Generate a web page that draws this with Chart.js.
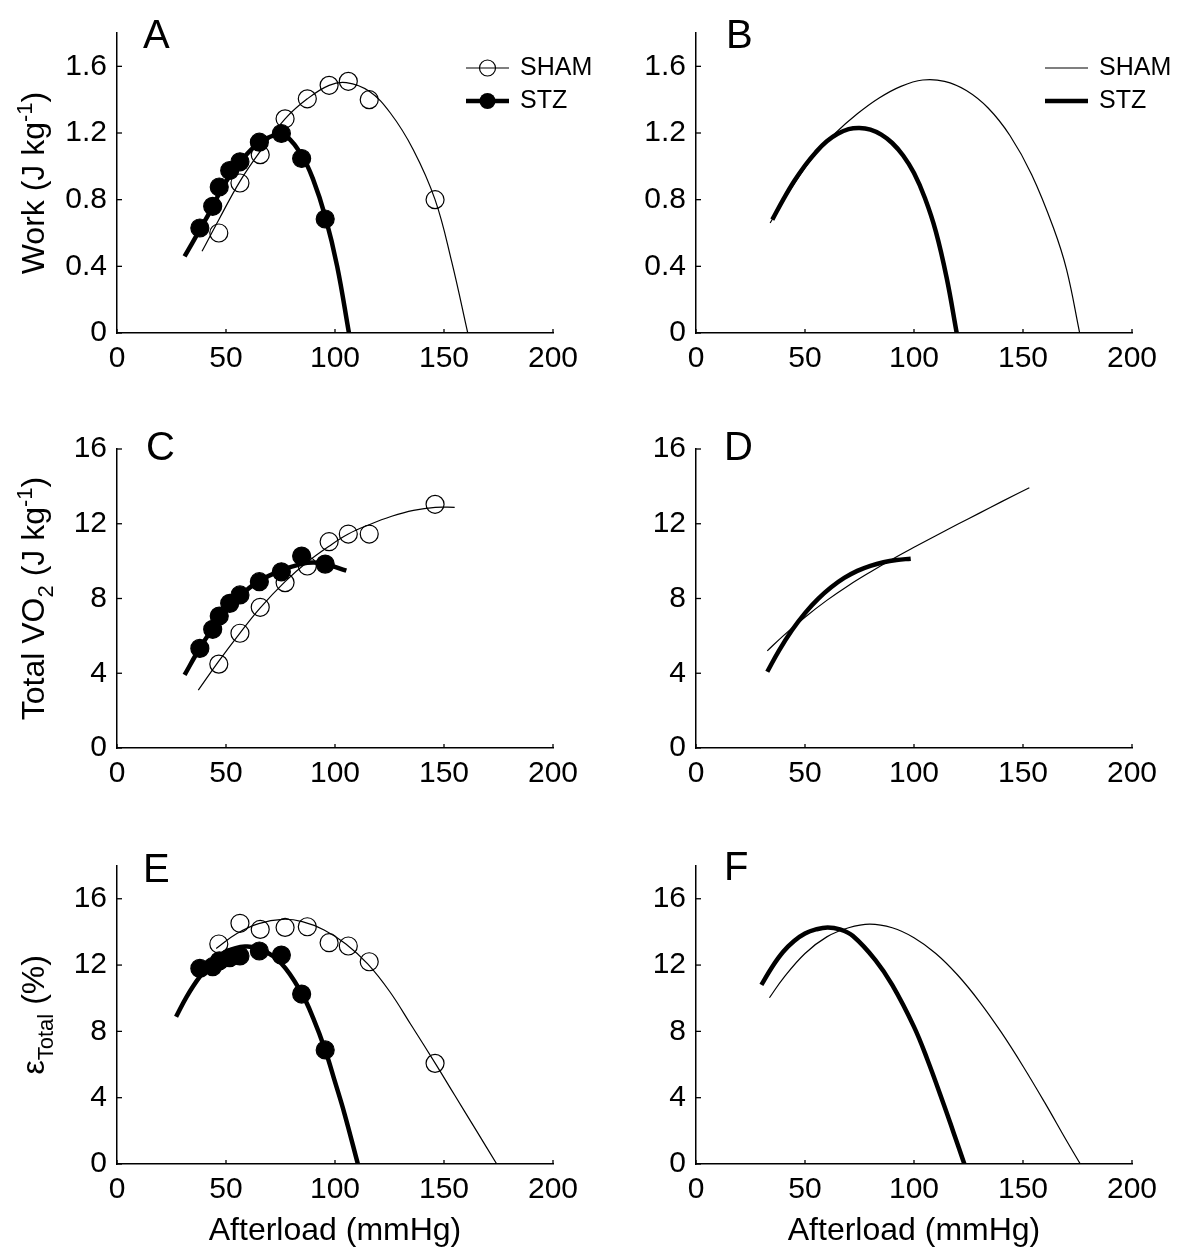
<!DOCTYPE html>
<html>
<head>
<meta charset="utf-8">
<script src="https://cdn.jsdelivr.net/npm/chart.js@4.4.1/dist/chart.umd.min.js"></script>
<style>
  body { margin: 0; background: #fff; }
  #fig { position: relative; width: 1200px; height: 1253px; }
  #fig canvas { position: absolute; }
</style>
</head>
<body>
<div id="fig">
  <canvas id="cA" width="600" height="400" style="left:0;top:0"></canvas>
  <canvas id="cB" width="600" height="400" style="left:600px;top:0"></canvas>
  <canvas id="cC" width="600" height="420" style="left:0;top:400px"></canvas>
  <canvas id="cD" width="600" height="420" style="left:600px;top:400px"></canvas>
  <canvas id="cE" width="600" height="433" style="left:0;top:820px"></canvas>
  <canvas id="cF" width="600" height="433" style="left:600px;top:820px"></canvas>
</div>
<script>
// ---- tick labels ----
const xTicks = [0, 50, 100, 150, 200];
const workTicks = [0, 0.4, 0.8, 1.2, 1.6];
const vo2Ticks = [0, 4, 8, 12, 16];
const effTicks = [0, 4, 8, 12, 16];

// ---- measured points (afterload, mmHg) ----
const shamX = [46.7, 56.4, 65.7, 77.1, 87.3, 97.3, 106.1, 115.7, 145.9];
const stzX = [38.0, 43.9, 46.9, 51.7, 56.4, 65.3, 75.4, 84.7, 95.5];

const shamWork = [0.60, 0.90, 1.07, 1.285, 1.405, 1.486, 1.51, 1.40, 0.80];
const stzWork = [0.63, 0.76, 0.876, 0.975, 1.027, 1.145, 1.197, 1.047, 0.684];
const shamVO2 = [4.49, 6.14, 7.53, 8.85, 9.74, 11.04, 11.45, 11.45, 13.04];
const stzVO2 = [5.33, 6.35, 7.06, 7.74, 8.19, 8.90, 9.43, 10.27, 9.84];
const shamEff = [13.27, 14.52, 14.15, 14.27, 14.31, 13.35, 13.15, 12.2, 6.07];
const stzEff = [11.8, 11.9, 12.25, 12.45, 12.55, 12.85, 12.6, 10.25, 6.88];

// ---- fitted curves ----
// A
const fitShamWorkX = [39, 46.7, 56.4, 65.7, 77.1, 87.3, 97.3, 105.2, 115.7, 125.4, 135.9, 145.9, 153.5, 160.9];
const fitShamWorkY = [0.49, 0.68, 0.91, 1.09, 1.285, 1.405, 1.486, 1.502, 1.45, 1.32, 1.10, 0.80, 0.43, 0];
const fitStzWorkX = [31, 38, 44, 47, 52, 56, 65, 73, 77, 85, 90, 95.5, 101, 106.4];
const fitStzWorkY = [0.46, 0.62, 0.76, 0.84, 0.95, 1.02, 1.14, 1.19, 1.19, 1.06, 0.92, 0.70, 0.40, 0];
// B
const modShamWorkX = [34, 44, 54, 64, 74, 84, 94, 104, 114, 124, 134, 144, 154, 164, 170, 176];
const modShamWorkY = [0.66, 0.875, 1.06, 1.20, 1.315, 1.41, 1.48, 1.518, 1.51, 1.455, 1.35, 1.185, 0.95, 0.63, 0.38, 0];
const modStzWorkX = [35, 40, 45, 50, 55, 60, 65, 70, 75, 80, 85, 90, 95, 100, 105, 110, 115, 119.6];
const modStzWorkY = [0.68, 0.80, 0.91, 1.005, 1.085, 1.15, 1.195, 1.223, 1.23, 1.22, 1.19, 1.14, 1.065, 0.96, 0.81, 0.61, 0.33, 0];
// C
const fitShamVO2X = [37.3, 46.7, 56.4, 65.7, 77.1, 87.3, 97.3, 106.1, 115.7, 126, 136, 146, 154.9];
const fitShamVO2Y = [3.10, 4.65, 6.15, 7.5, 8.9, 9.95, 10.8, 11.45, 11.95, 12.4, 12.72, 12.88, 12.88];
const fitStzVO2X = [31, 38, 43.9, 46.9, 51.7, 56.4, 65.3, 75.4, 84.7, 90, 95.5, 105.2];
const fitStzVO2Y = [3.91, 5.35, 6.4, 6.9, 7.65, 8.15, 8.95, 9.5, 9.85, 9.92, 9.85, 9.49];
// D
const modShamVO2X = [32.7, 40, 50, 60, 70, 80, 90, 100, 110, 120, 130, 140, 152.9];
const modShamVO2Y = [5.2, 6.0, 7.0, 7.9, 8.7, 9.42, 10.1, 10.74, 11.36, 11.97, 12.57, 13.17, 13.93];
const modStzVO2X = [32.7, 38, 44, 50, 56, 62, 68, 74, 80, 86, 92, 98.5];
const modStzVO2Y = [4.08, 5.2, 6.3, 7.22, 7.98, 8.6, 9.1, 9.48, 9.75, 9.94, 10.06, 10.13];
// E
const fitShamEffX = [45.5, 55, 65, 76, 85, 95, 105, 115, 125, 135, 146, 155, 165, 174.2];
const fitShamEffY = [13.0, 13.9, 14.5, 14.76, 14.62, 14.12, 13.27, 12.07, 10.42, 8.37, 6.07, 4.13, 1.98, 0];
const fitStzEffX = [27.1, 32, 38, 44, 50, 58.7, 66, 75.4, 84.7, 90, 95.5, 100, 104.3, 110.5];
const fitStzEffY = [8.88, 10.1, 11.3, 12.2, 12.8, 13.12, 12.95, 12.1, 10.3, 8.8, 6.88, 4.95, 3.06, 0];
// F
const modShamEffX = [33.7, 40, 50, 60, 70, 79.7, 90, 100, 110, 120, 130, 140, 150, 160, 170, 176.3];
const modShamEffY = [10.03, 11.2, 12.7, 13.7, 14.25, 14.47, 14.25, 13.65, 12.70, 11.40, 9.80, 7.95, 5.90, 3.70, 1.40, 0];
const modStzEffX = [30, 35, 40, 45, 50, 55, 60.4, 66, 72, 82.3, 90, 99.9, 106, 113.9, 118, 123.1];
const modStzEffY = [10.8, 11.9, 12.8, 13.45, 13.9, 14.15, 14.27, 14.15, 13.75, 12.3, 10.8, 8.3, 6.35, 3.5, 1.95, 0];

const FONT = "'Liberation Sans', Arial, Helvetica, sans-serif";
const THIN = 1.2;
const THICK = 4.5;

function xy(xs, ys) {
    return xs.map((v, i) => ({ x: v, y: ys[i] }));
}

// desenha ticks para dentro, letra do painel, título do eixo y e legenda
const decor = {
    id: "decor",
    afterDraw(chart, args, opts) {
        const ctx = chart.ctx;
        const area = chart.chartArea;
        const sx = chart.scales.x, sy = chart.scales.y;
        ctx.save();
        ctx.strokeStyle = "#000";
        ctx.lineWidth = 1.3;
        sx.ticks.forEach(t => {
            const p = sx.getPixelForValue(t.value);
            ctx.beginPath(); ctx.moveTo(p, area.bottom); ctx.lineTo(p, area.bottom - 4); ctx.stroke();
        });
        sy.ticks.forEach(t => {
            const p = sy.getPixelForValue(t.value);
            ctx.beginPath(); ctx.moveTo(area.left, p); ctx.lineTo(area.left + 5, p); ctx.stroke();
        });

        ctx.fillStyle = "#000";
        ctx.textBaseline = "alphabetic";
        ctx.textAlign = "left";
        ctx.font = `40px ${FONT}`;
        ctx.fillText(opts.letter, opts.letterX, opts.letterY);

        // título do eixo y com sobrescrito / subscrito
        if (opts.yTitle) {
            const parts = opts.yTitle.map(s => ({
                t: s.t,
                size: s.sup || s.sub ? 22 : 32,
                dy: s.sup ? -12 : (s.sub ? 9 : 0)
            }));
            let total = 0;
            parts.forEach(p => { ctx.font = `${p.size}px ${FONT}`; p.w = ctx.measureText(p.t).width; total += p.w; });
            ctx.translate(opts.yTitleX, (area.top + area.bottom) / 2);
            ctx.rotate(-Math.PI / 2);
            let cur = -total / 2;
            parts.forEach(p => {
                ctx.font = `${p.size}px ${FONT}`;
                ctx.fillText(p.t, cur, p.dy);
                cur += p.w;
            });
            ctx.setTransform(1, 0, 0, 1, 0, 0);
        }

        // legenda
        if (opts.legend) {
            ctx.textBaseline = "middle";
            ctx.font = `25px ${FONT}`;
            opts.legend.forEach(item => {
                ctx.lineWidth = item.w;
                ctx.beginPath(); ctx.moveTo(opts.lx1, item.y); ctx.lineTo(opts.lx2, item.y); ctx.stroke();
                if (item.marker) {
                    ctx.beginPath();
                    ctx.arc((opts.lx1 + opts.lx2) / 2, item.y, 8, 0, Math.PI * 2);
                    if (item.marker === "filled") { ctx.fill(); }
                    else { ctx.lineWidth = 1.2; ctx.stroke(); }
                }
                ctx.fillText(item.text, opts.tx, item.y);
            });
        }
        ctx.restore();
    }
};

function makePanel(id, cfg) {
    const datasets = [];
    cfg.curves.forEach(c => {
        datasets.push({
            data: xy(c.x, c.y),
            showLine: true,
            borderColor: "#000",
            borderWidth: c.w,
            borderCapStyle: "butt",
            pointRadius: 0,
            tension: 0.4,
            order: 2
        });
    });
    (cfg.points || []).forEach(p => {
        datasets.push({
            data: xy(p.x, p.y),
            showLine: false,
            pointRadius: 9,
            pointBorderWidth: 1.2,
            pointBorderColor: "#000",
            pointBackgroundColor: p.filled ? "#000" : "rgba(0,0,0,0)",
            order: 1
        });
    });

    const tickFont = { family: FONT, size: 30 };

    new Chart(document.getElementById(id), {
        type: "scatter",
        data: { datasets },
        plugins: [decor],
        options: {
            responsive: false,
            animation: false,
            events: [],
            layout: { padding: { top: cfg.padTop, right: cfg.padRight, left: 0, bottom: 0 } },
            plugins: {
                legend: { display: false },
                tooltip: { enabled: false },
                decor: cfg.decor
            },
            scales: {
                x: {
                    type: "linear",
                    min: 0, max: 200,
                    afterBuildTicks: ax => { ax.ticks = xTicks.map(v => ({ value: v })); },
                    afterFit: s => { s.height = cfg.xH; },
                    border: { color: "#000", width: 1.5 },
                    grid: { display: false, drawTicks: false },
                    ticks: { color: "#000", font: tickFont, padding: 8, maxRotation: 0, autoSkip: false },
                    title: {
                        display: !!cfg.xTitle,
                        text: cfg.xTitle || "",
                        color: "#000",
                        font: { family: FONT, size: 32 },
                        padding: { top: 0, bottom: 3 }
                    }
                },
                y: {
                    type: "linear",
                    min: 0, max: cfg.yMax,
                    afterBuildTicks: ax => { ax.ticks = cfg.yTicks.map(v => ({ value: v })); },
                    afterFit: s => { s.width = cfg.yW; },
                    border: { color: "#000", width: 1.5 },
                    grid: { display: false, drawTicks: false },
                    ticks: {
                        color: "#000", font: tickFont, padding: 10, autoSkip: false,
                        callback: v => cfg.fmt ? cfg.fmt(v) : String(v)
                    }
                }
            }
        }
    });
}

const fmtWork = v => (v === 0 ? "0" : v.toFixed(1));

const legendPts = [
    { text: "SHAM", y: 68, w: THIN, marker: "open" },
    { text: "STZ", y: 101, w: THICK, marker: "filled" }
];
const legendLines = [
    { text: "SHAM", y: 68, w: THIN },
    { text: "STZ", y: 101, w: THICK }
];

// A
makePanel("cA", {
    padTop: 33, padRight: 47, xH: 67, yW: 117, yMax: 1.8, yTicks: workTicks, fmt: fmtWork,
    curves: [
        { x: fitShamWorkX, y: fitShamWorkY, w: THIN },
        { x: fitStzWorkX, y: fitStzWorkY, w: THICK }
    ],
    points: [
        { x: shamX, y: shamWork, filled: false },
        { x: stzX, y: stzWork, filled: true }
    ],
    decor: {
        letter: "A", letterX: 143, letterY: 48,
        yTitle: [{ t: "Work (J kg" }, { t: "-1", sup: true }, { t: ")" }], yTitleX: 44,
        legend: legendPts, lx1: 466, lx2: 509, tx: 520
    }
});

// B
makePanel("cB", {
    padTop: 33, padRight: 68, xH: 67, yW: 96, yMax: 1.8, yTicks: workTicks, fmt: fmtWork,
    curves: [
        { x: modShamWorkX, y: modShamWorkY, w: THIN },
        { x: modStzWorkX, y: modStzWorkY, w: THICK }
    ],
    decor: {
        letter: "B", letterX: 126, letterY: 48,
        legend: legendLines, lx1: 445, lx2: 488, tx: 499
    }
});

// C
makePanel("cC", {
    padTop: 49, padRight: 47, xH: 72, yW: 117, yMax: 16, yTicks: vo2Ticks,
    curves: [
        { x: fitShamVO2X, y: fitShamVO2Y, w: THIN },
        { x: fitStzVO2X, y: fitStzVO2Y, w: THICK }
    ],
    points: [
        { x: shamX, y: shamVO2, filled: false },
        { x: stzX, y: stzVO2, filled: true }
    ],
    decor: {
        letter: "C", letterX: 146, letterY: 60,
        yTitle: [{ t: "Total VO" }, { t: "2", sub: true }, { t: " (J kg" }, { t: "-1", sup: true }, { t: ")" }],
        yTitleX: 44
    }
});

// D
makePanel("cD", {
    padTop: 49, padRight: 68, xH: 72, yW: 96, yMax: 16, yTicks: vo2Ticks,
    curves: [
        { x: modShamVO2X, y: modShamVO2Y, w: THIN },
        { x: modStzVO2X, y: modStzVO2Y, w: THICK }
    ],
    decor: { letter: "D", letterX: 124, letterY: 60 }
});

// E
makePanel("cE", {
    padTop: 45.6, padRight: 47, xH: 89, yW: 117, yMax: 18, yTicks: effTicks,
    xTitle: "Afterload (mmHg)",
    curves: [
        { x: fitShamEffX, y: fitShamEffY, w: THIN },
        { x: fitStzEffX, y: fitStzEffY, w: THICK }
    ],
    points: [
        { x: shamX, y: shamEff, filled: false },
        { x: stzX, y: stzEff, filled: true }
    ],
    decor: {
        letter: "E", letterX: 143, letterY: 62,
        yTitle: [{ t: "ε" }, { t: "Total", sub: true }, { t: " (%)" }],
        yTitleX: 44
    }
});

// F
makePanel("cF", {
    padTop: 45.6, padRight: 68, xH: 89, yW: 96, yMax: 18, yTicks: effTicks,
    xTitle: "Afterload (mmHg)",
    curves: [
        { x: modShamEffX, y: modShamEffY, w: THIN },
        { x: modStzEffX, y: modStzEffY, w: THICK }
    ],
    decor: { letter: "F", letterX: 124, letterY: 60 }
});
</script>
</body>
</html>
